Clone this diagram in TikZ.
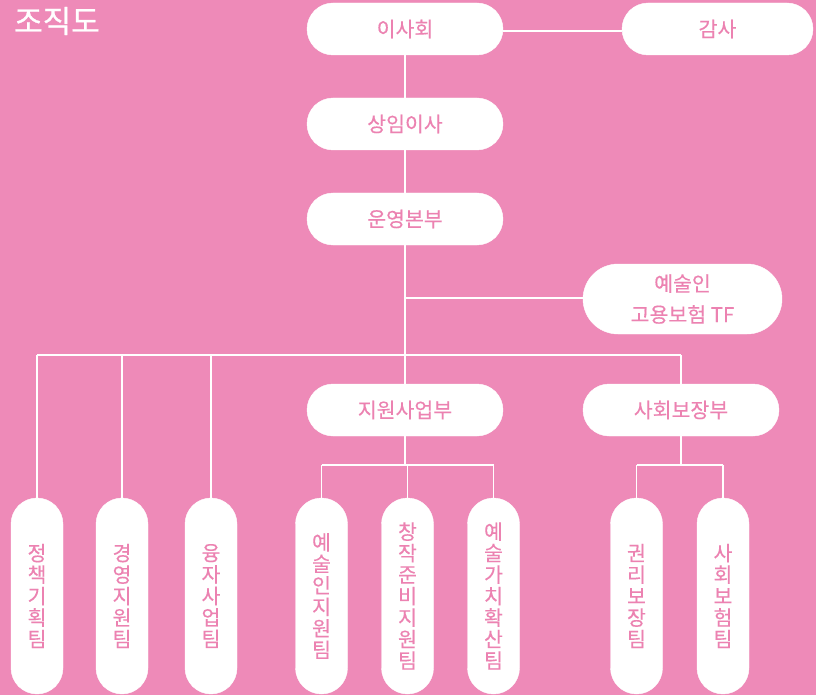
\documentclass[tikz,border=0pt]{standalone}
\usepackage{fontspec}
\setmainfont{Noto Sans CJK KR}
\newfontfamily\pillfont{Noto Sans CJK KR}[FakeBold=0.3]
\newfontfamily\titlefont{Noto Sans CJK KR}[FakeBold=0.8]
\definecolor{bgpink}{HTML}{EE8AB8}
\definecolor{txtpink}{HTML}{EC82B1}
\begin{document}
\begin{tikzpicture}[x=1pt,y=-1pt,
  hpill/.style={draw=white,fill=white,minimum width=196pt,minimum height=52pt,rounded corners=26pt,inner sep=0pt,
    text=txtpink,font=\fontsize{20.5}{23}\pillfont},
  vpill/.style={draw=white,fill=white,minimum width=52pt,minimum height=196pt,rounded corners=26pt,inner sep=0pt,
    text=txtpink,align=center,font=\fontsize{20.5}{21.5}\pillfont},
  link/.style={draw=white,line width=1.2pt}]
\fill[bgpink] (0,0) rectangle (816,695);
\useasboundingbox (0,0) rectangle (816,695);
\node[anchor=west,inner sep=0pt,text=white,font=\fontsize{31}{32}\titlefont] (title) at (14,21) {조직도};
% top level
\node[hpill] (board) at (405,29) {이사회};
\node[hpill,minimum width=191pt] (audit) at (717.5,29) {감사};
\node[hpill] (exec) at (405,124) {상임이사};
\node[hpill] (ops) at (405,219) {운영본부};
\node[hpill,minimum width=199pt,minimum height=70pt,rounded corners=35pt,align=center,font=\fontsize{20.5}{31}\pillfont] (tf) at (682.5,299) {예술인\\고용보험 TF};
\node[hpill] (support) at (405,410) {지원사업부};
\node[hpill] (social) at (681,410) {사회보장부};
% teams
\node[vpill] (t1) at (37,596) {정\\책\\기\\획\\팀};
\node[vpill] (t2) at (122,596) {경\\영\\지\\원\\팀};
\node[vpill] (t3) at (211,596) {융\\자\\사\\업\\팀};
\node[vpill] (t4) at (321.5,596) {예\\술\\인\\지\\원\\팀};
\node[vpill] (t5) at (407.5,596) {창\\작\\준\\비\\지\\원\\팀};
\node[vpill] (t6) at (493.5,596) {예\\술\\가\\치\\확\\산\\팀};
\node[vpill] (t7) at (636.5,596) {권\\리\\보\\장\\팀};
\node[vpill] (t8) at (723,596) {사\\회\\보\\험\\팀};
% coordinates
\coordinate (bus1) at (37,355);
\coordinate (bus2) at (122,355);
\coordinate (bus3) at (211,355);
\coordinate (busr) at (681,355);
\coordinate (tfj) at (405,298);
\coordinate (sj) at (405,465);
\coordinate (sl) at (321.5,465);
\coordinate (sm) at (407.5,465);
\coordinate (sr) at (493.5,465);
\coordinate (rj) at (681,465);
\coordinate (rl) at (636.5,465);
\coordinate (rr) at (723,465);
% connectors
\draw[link] (board.east |- 0,31) -- (audit.west |- 0,31);
\draw[link] (board.south) -- (exec.north);
\draw[link] (exec.south) -- (ops.north);
\draw[link] (ops.south) -- (support.north);
\draw[link] (tfj) -- (tf.west |- tfj);
\draw[link] (bus1) -- (busr);
\draw[link] (bus1) -- (t1.north);
\draw[link] (bus2) -- (t2.north);
\draw[link] (bus3) -- (t3.north);
\draw[link] (busr) -- (social.north);
\draw[link] (support.south) -- (sj);
\draw[link] (sl) -- (sr);
\draw[link] (sl) -- (t4.north);
\draw[link] (sm) -- (t5.north);
\draw[link] (sr) -- (t6.north);
\draw[link] (social.south) -- (rj);
\draw[link] (rl) -- (rr);
\draw[link] (rl) -- (t7.north);
\draw[link] (rr) -- (t8.north);
\end{tikzpicture}
\end{document}
